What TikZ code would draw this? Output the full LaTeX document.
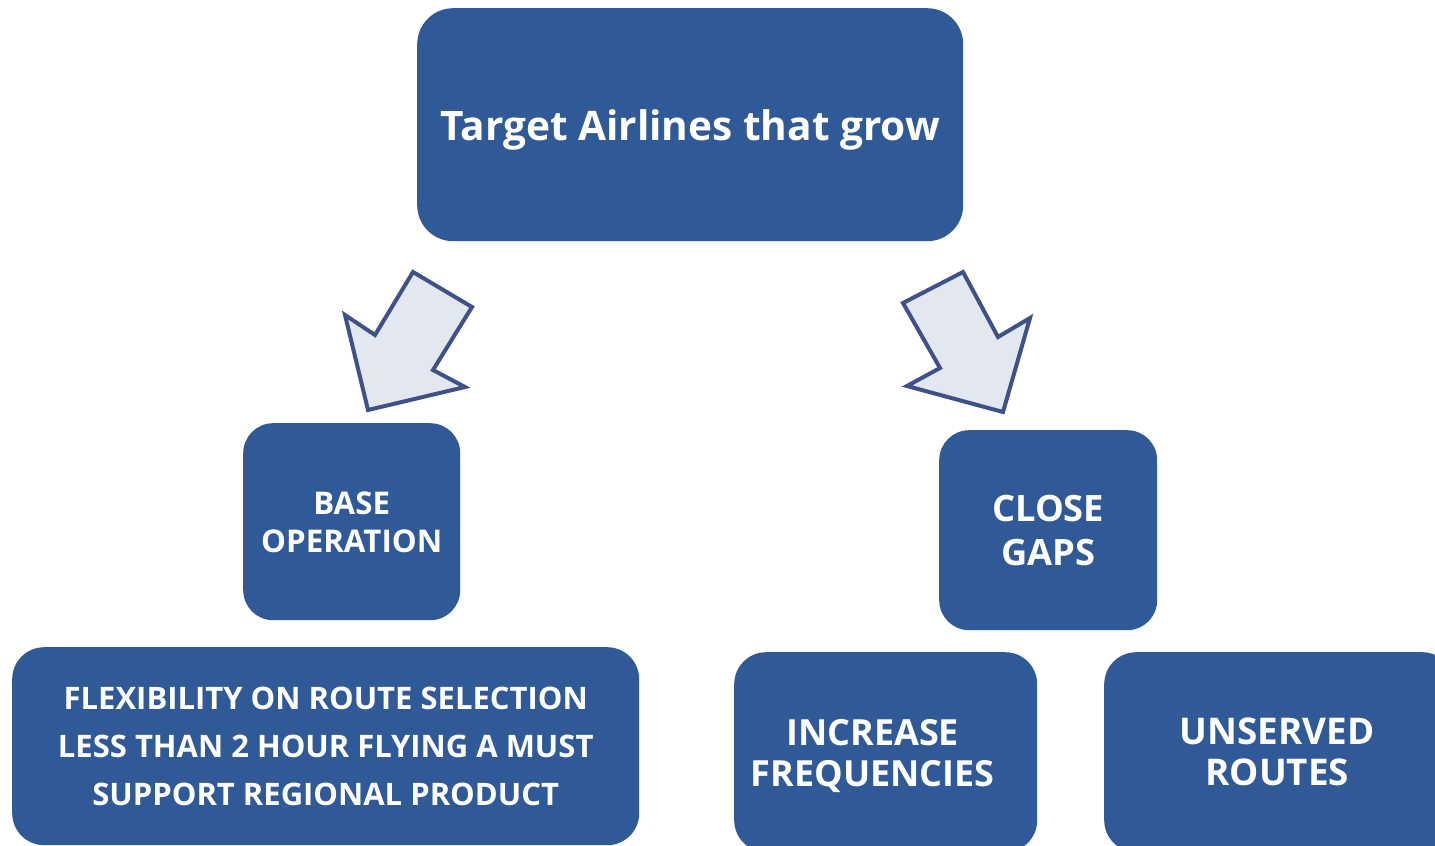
\documentclass[tikz,border=0pt]{standalone}
\usepackage{fontspec}
\setmainfont{Open Sans}
\definecolor{boxblue}{HTML}{2F5997}
\definecolor{arrowline}{HTML}{3F5189}
\definecolor{arrowfill}{HTML}{E3E8F0}
\begin{document}
\begin{tikzpicture}[x=1pt,y=-1pt,
  box/.style={fill=boxblue, draw=none, rounded corners=32pt, anchor=north west,
    inner sep=0pt, text=white, align=center, text depth=0pt},
  blockarrow/.style={draw=arrowline, fill=arrowfill, line width=4pt, line join=miter}]
\useasboundingbox (0,0) rectangle (1435,846);
\begin{scope}
\clip (0,0) rectangle (1435,846);
% goal
\node[box, minimum width=546pt, minimum height=233pt, rounded corners=36pt,
  font=\fontsize{40.6}{48}\selectfont\bfseries] (goal) at (417,8) {Target Airlines that grow};
% two branches
\node[box, minimum width=217pt, minimum height=197pt, rounded corners=30pt,
  font=\fontsize{31.3}{38}\selectfont\bfseries] (base) at (243,423) {BASE\\OPERATION};
\node[box, minimum width=218pt, minimum height=200pt, rounded corners=30pt,
  font=\fontsize{36.3}{44}\selectfont\bfseries] (gaps) at (939,430) {CLOSE\\GAPS};
% details
\node[box, minimum width=627pt, minimum height=198pt, rounded corners=32pt,
  font=\fontsize{31}{48}\selectfont\bfseries] (flex) at (12,647)
  {FLEXIBILITY ON ROUTE SELECTION\\LESS THAN 2 HOUR FLYING A MUST\\SUPPORT REGIONAL PRODUCT};
\node[box, minimum width=303pt, minimum height=200pt, rounded corners=32pt] (freq) at (734,652) {};
\node[box, anchor=center, fill=none, font=\fontsize{36}{41}\selectfont\bfseries]
  (freqtext) at ([xshift=-13pt,yshift=-1pt]freq.center) {INCREASE\\FREQUENCIES};
\node[box, minimum width=350pt, minimum height=200pt, rounded corners=32pt] (unserved) at (1104,652) {};
\node[box, anchor=center, fill=none, font=\fontsize{36.8}{41}\selectfont\bfseries]
  (unservedtext) at ([xshift=-2pt,yshift=1pt]unserved.center) {UNSERVED\\ROUTES};
\end{scope}
% block arrows
\draw[blockarrow] (413,272) -- (472,307) -- (433,370) -- (465,387) -- (368,410)
  -- (345,315) -- (375,335) -- cycle;
\draw[blockarrow] (963,272) -- (998,337) -- (1030,318) -- (1003,412) -- (907,386)
  -- (940,368) -- (903,303) -- cycle;
\end{tikzpicture}
\end{document}
